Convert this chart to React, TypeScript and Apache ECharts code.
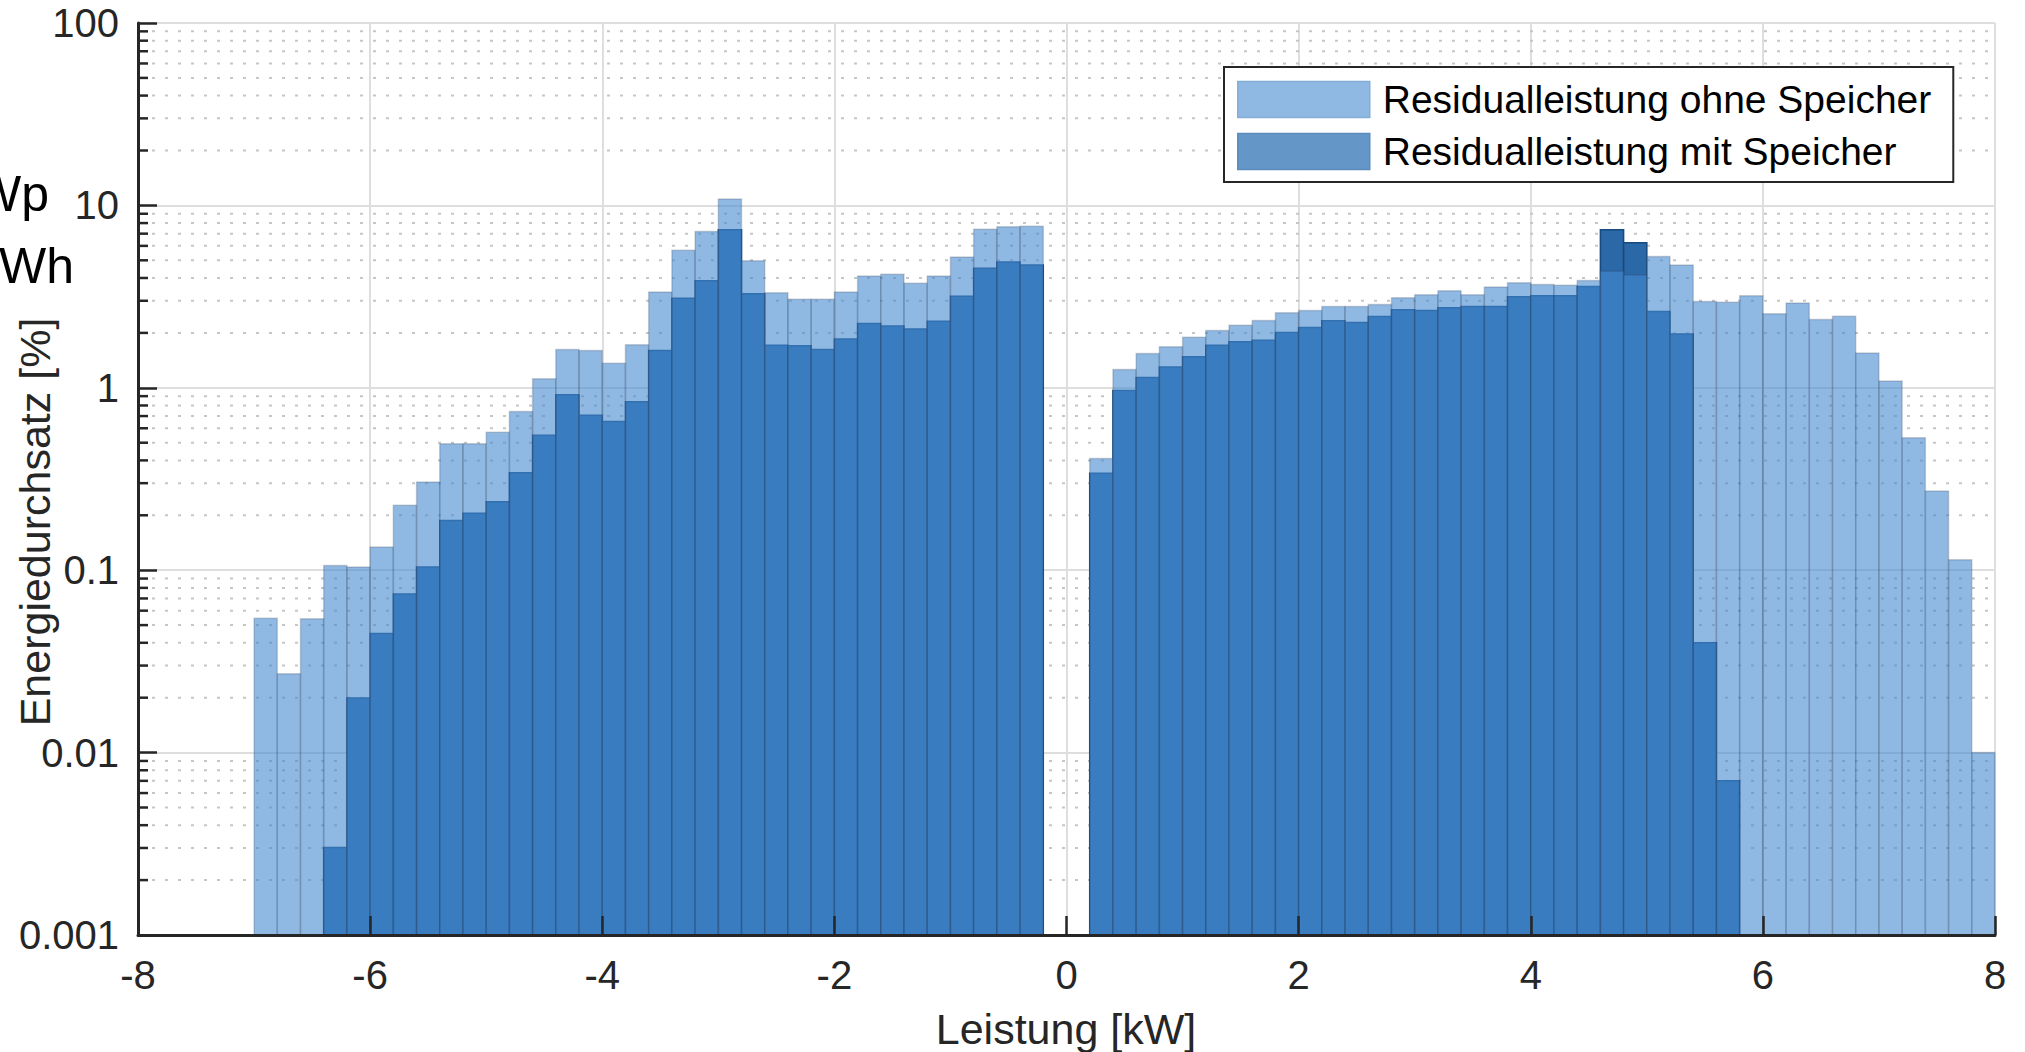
import React, { useEffect, useRef } from "react";
import * as echarts from "echarts";

// ---------- data ----------
const binWidth = 0.2;
const binStart = [
  -8.0, -7.8, -7.6, -7.4, -7.2, -7.0, -6.8, -6.6, -6.4, -6.2,
  -6.0, -5.8, -5.6, -5.4, -5.2, -5.0, -4.8, -4.6, -4.4, -4.2,
  -4.0, -3.8, -3.6, -3.4, -3.2, -3.0, -2.8, -2.6, -2.4, -2.2,
  -2.0, -1.8, -1.6, -1.4, -1.2, -1.0, -0.8, -0.6, -0.4, -0.2,
  0.0, 0.2, 0.4, 0.6, 0.8, 1.0, 1.2, 1.4, 1.6, 1.8,
  2.0, 2.2, 2.4, 2.6, 2.8, 3.0, 3.2, 3.4, 3.6, 3.8,
  4.0, 4.2, 4.4, 4.6, 4.8, 5.0, 5.2, 5.4, 5.6, 5.8,
  6.0, 6.2, 6.4, 6.6, 6.8, 7.0, 7.2, 7.4, 7.6, 7.8,
];

// Residualleistung ohne Speicher [%]
const ohneSpeicher = [
  null, null, null, null, null, 0.0545, 0.0271, 0.0541, 0.106, 0.104,
  0.134, 0.227, 0.304, 0.494, 0.493, 0.57, 0.742, 1.12, 1.62, 1.6,
  1.365, 1.72, 3.35, 5.68, 7.2, 10.85, 4.98, 3.32, 3.06, 3.06,
  3.35, 4.1, 4.19, 3.74, 4.1, 5.22, 7.41, 7.63, 7.69, null,
  null, 0.41, 1.26, 1.54, 1.68, 1.89, 2.06, 2.2, 2.34, 2.58,
  2.65, 2.79, 2.79, 2.86, 3.12, 3.24, 3.4, 3.24, 3.57, 3.77,
  3.68, 3.65, 3.87, 4.35, 4.16, 5.24, 4.71, 2.97, 2.94, 3.2,
  2.55, 2.92, 2.37, 2.47, 1.55, 1.09, 0.533, 0.272, 0.114, 0.01,
];

// Residualleistung mit Speicher [%]
const mitSpeicher = [
  null, null, null, null, null, null, null, null, 0.00302, 0.0199,
  0.045, 0.074, 0.104, 0.187, 0.205, 0.237, 0.342, 0.55, 0.916, 0.708,
  0.654, 0.838, 1.6, 3.1, 3.86, 7.35, 3.28, 1.71, 1.7, 1.62,
  1.85, 2.25, 2.18, 2.1, 2.32, 3.18, 4.52, 4.9, 4.71, null,
  null, 0.34, 0.967, 1.14, 1.3, 1.48, 1.71, 1.79, 1.82, 2.01,
  2.14, 2.33, 2.28, 2.46, 2.68, 2.65, 2.75, 2.79, 2.79, 3.16,
  3.2, 3.2, 3.59, 7.36, 6.25, 2.62, 1.97, 0.04, 0.007, null,
  null, null, null, null, null, null, null, null, null, null,
];

const xMin = -8;
const xMax = 8;
const xInterval = 2;
const yMin = 0.001;
const yMax = 100;
const yTickLabels = ["0.001", "0.01", "0.1", "1", "10", "100"];
const minorTicks = [
  0.002, 0.003, 0.004, 0.005, 0.006, 0.007, 0.008, 0.009,
  0.02, 0.03, 0.04, 0.05, 0.06, 0.07, 0.08, 0.09,
  0.2, 0.3, 0.4, 0.5, 0.6, 0.7, 0.8, 0.9,
  2, 3, 4, 5, 6, 7, 8, 9,
  20, 30, 40, 50, 60, 70, 80, 90,
];

const nameOhne = "Residualleistung ohne Speicher";
const nameMit = "Residualleistung mit Speicher";
const xAxisName = "Leistung [kW]";
const yAxisName = "Energiedurchsatz [%]";
const cutText1 = "kWp";
const cutText2 = "kWh";

const FONT = "'Liberation Sans', Arial, Helvetica, sans-serif";
const AX = "#262626";

function toBars(values: (number | null)[]) {
  const out: number[][] = [];
  values.forEach((v, i) => {
    if (v !== null && v !== undefined) out.push([binStart[i], binStart[i] + binWidth, v]);
  });
  return out;
}

function barRenderer(fill: string, stroke: string, lw: number) {
  return (params: any, api: any) => {
    const x0 = api.value(0);
    const x1 = api.value(1);
    const v = api.value(2);
    const tl = api.coord([x0, v]);
    const br = api.coord([x1, yMin]);
    return {
      type: "rect",
      shape: { x: tl[0], y: tl[1], width: br[0] - tl[0], height: br[1] - tl[1] },
      style: { fill, stroke, lineWidth: lw },
    };
  };
}

export default function App() {
  const ref = useRef<HTMLDivElement>(null);

  useEffect(() => {
    document.body.style.margin = "0";
    if (!ref.current) return;
    const chart = echarts.init(ref.current, null, { renderer: "svg" });

    const option: any = {
      animation: false,
      backgroundColor: "#ffffff",
      grid: { left: 138, top: 23, width: 1857, height: 912, containLabel: false },
      legend: {
        orient: "vertical",
        left: 1224,
        top: 67,
        icon: "rect",
        itemWidth: 132,
        itemHeight: 36,
        itemGap: 13,
        padding: [13, 22, 11, 13],
        borderColor: AX,
        borderWidth: 2,
        borderRadius: 0,
        backgroundColor: "#ffffff",
        selectedMode: false,
        textStyle: { fontFamily: FONT, fontSize: 39, color: "#000", lineHeight: 36, padding: [0, 0, 0, 8] },
        data: [
          { name: nameOhne, itemStyle: { color: "#8FB9E3", borderColor: "#84AED8", borderWidth: 1.5, opacity: 1 } },
          { name: nameMit, itemStyle: { color: "#6497C8", borderColor: "#5A8CBD", borderWidth: 1.5, opacity: 1 } },
        ],
      },
      xAxis: [
        {
          type: "value",
          min: xMin,
          max: xMax,
          interval: xInterval,
          axisLine: { show: false, onZero: false },
          axisTick: { show: false },
          axisLabel: { show: false },
          splitLine: { show: true, lineStyle: { color: "#dedede", width: 2 } },
          z: 0,
        },
        {
          type: "value",
          min: xMin,
          max: xMax,
          interval: xInterval,
          position: "bottom",
          axisLine: { show: true, onZero: false, lineStyle: { color: AX, width: 3 } },
          axisTick: { show: true, inside: true, length: 19, lineStyle: { color: AX, width: 2.5 } },
          axisLabel: { fontFamily: FONT, fontSize: 40, color: AX, margin: 20, formatter: (v: number) => String(v) },
          splitLine: { show: false },
          z: 10,
        },
      ],
      yAxis: [
        {
          type: "log",
          logBase: 10,
          min: yMin,
          max: yMax,
          axisLine: { show: false, onZero: false },
          axisTick: { show: false },
          axisLabel: { show: false },
          splitLine: { show: true, lineStyle: { color: "#dedede", width: 2 } },
          z: 0,
        },
        {
          type: "log",
          logBase: 10,
          min: yMin,
          max: yMax,
          position: "left",
          axisLine: { show: true, onZero: false, lineStyle: { color: AX, width: 3 } },
          axisTick: { show: true, inside: true, length: 19, lineStyle: { color: AX, width: 2.5 } },
          axisLabel: {
            fontFamily: FONT,
            fontSize: 40,
            color: AX,
            margin: 19,
            formatter: (v: number) => yTickLabels[Math.round(Math.log10(v)) + 3] ?? "",
          },
          splitLine: { show: false },
          z: 10,
        },
      ],
      series: [
        {
          type: "custom",
          name: "minorGrid",
          xAxisIndex: 0,
          yAxisIndex: 0,
          z: 1,
          silent: true,
          encode: { x: 0, y: 1 },
          data: minorTicks.map((v) => [xMin, v]),
          renderItem: (params: any, api: any) => {
            const v = api.value(1);
            const a = api.coord([xMin, v]);
            const b = api.coord([xMax, v]);
            return {
              type: "group",
              children: [
                {
                  type: "line",
                  shape: { x1: a[0] + 14, y1: a[1], x2: b[0], y2: b[1] },
                  style: { stroke: "#c6c6c6", lineWidth: 2, lineDash: [3, 10] },
                },
                {
                  type: "line",
                  shape: { x1: a[0], y1: a[1], x2: a[0] + 10, y2: a[1] },
                  style: { stroke: AX, lineWidth: 2.5 },
                },
              ],
            };
          },
        },
        {
          type: "custom",
          name: nameMit,
          xAxisIndex: 0,
          yAxisIndex: 0,
          z: 2,
          encode: { x: [0, 1], y: 2 },
          itemStyle: { color: "#6497C8" },
          data: toBars(mitSpeicher),
          renderItem: barRenderer("#2A68A8", "#17497F", 1.5),
        },
        {
          type: "custom",
          name: nameOhne,
          xAxisIndex: 0,
          yAxisIndex: 0,
          z: 3,
          encode: { x: [0, 1], y: 2 },
          itemStyle: { color: "#8FB9E3" },
          data: toBars(ohneSpeicher),
          renderItem: barRenderer("rgba(68,138,208,0.6)", "rgba(50,60,80,0.22)", 1.5),
        },
      ],
      graphic: [
        {
          type: "text",
          x: 35,
          y: 522,
          rotation: Math.PI / 2,
          style: { text: yAxisName, fontFamily: FONT, fontSize: 43, fill: AX, align: "center", verticalAlign: "middle" },
        },
        {
          type: "text",
          x: 1066,
          y: 1029,
          style: { text: xAxisName, fontFamily: FONT, fontSize: 43, fill: AX, align: "center", verticalAlign: "middle" },
        },
        {
          type: "text",
          x: 49,
          y: 194,
          style: { text: cutText1, fontFamily: FONT, fontSize: 50, fill: "#000", align: "right", verticalAlign: "middle" },
        },
        {
          type: "text",
          x: 74,
          y: 266,
          style: { text: cutText2, fontFamily: FONT, fontSize: 50, fill: "#000", align: "right", verticalAlign: "middle" },
        },
      ],
    };

    chart.setOption(option);
    return () => chart.dispose();
  }, []);

  return (
    <div
      ref={ref}
      style={{ position: "absolute", left: 0, top: 0, width: 2025, height: 1052, overflow: "hidden", background: "#fff" }}
    />
  );
}
